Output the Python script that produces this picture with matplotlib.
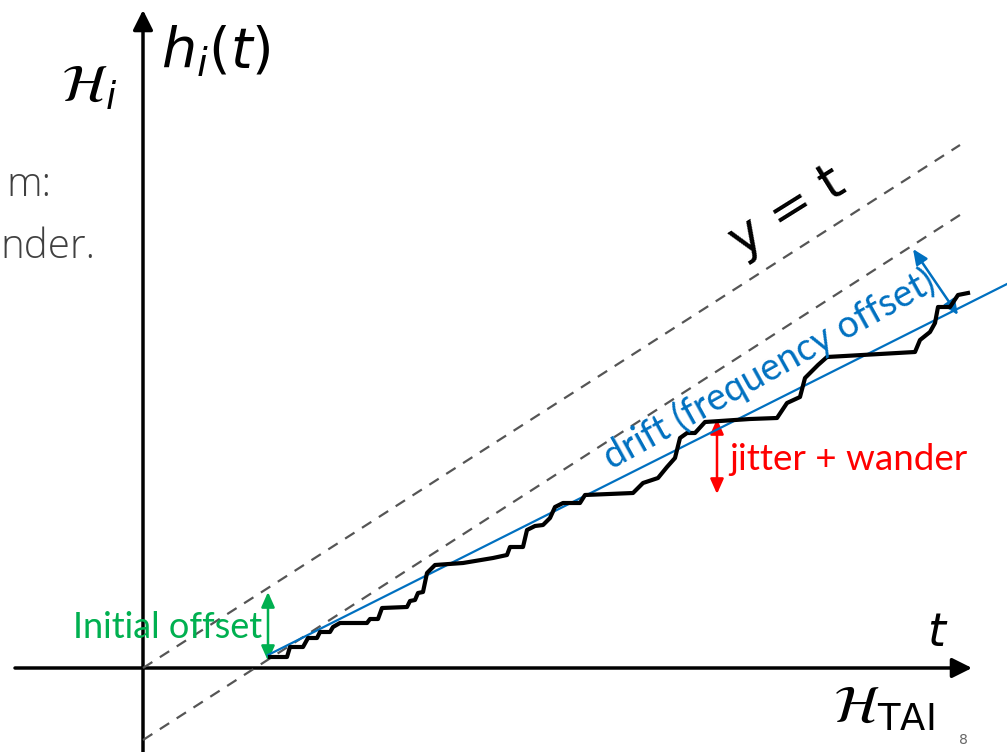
import matplotlib.pyplot as plt
from matplotlib.patches import FancyArrowPatch

# diagram drawn in slide pixel coordinates (x right, y down)
clock_x = [270, 287, 290, 303, 308, 317, 320, 330, 333, 340, 367, 370, 378, 382,
           407, 410, 415, 418, 423, 427, 435, 463, 493, 507, 510, 523, 527, 535,
           543, 550, 555, 563, 580, 585, 633, 643, 658, 667, 675, 680, 687, 695,
           705, 750, 777, 787, 800, 805, 818, 827, 915, 920, 930, 935, 938, 950,
           958, 968]
clock_y = [657, 657, 647, 647, 638, 638, 632, 632, 627, 623, 623, 619, 619, 608,
           607, 601, 600, 593, 592, 573, 565, 563, 558, 555, 547, 547, 530, 526,
           525, 518, 507, 503, 503, 495, 493, 483, 478, 467, 458, 438, 433, 433,
           422, 419, 418, 403, 397, 378, 365, 357, 352, 340, 332, 323, 307, 307,
           295, 293]

ideal_x = [143, 960]
ideal_y = [668, 145]
ideal2_x = [143, 963]
ideal2_y = [740, 213]
drift_x = [268, 1007]
drift_y = [655, 284]

fig = plt.figure(figsize=(10.07, 7.52), dpi=100)
ax = fig.add_axes([0, 0, 1, 1])
ax.set_xlim(0, 1007)
ax.set_ylim(752, 0)
ax.axis("off")

plt.rcParams["mathtext.fontset"] = "dejavusans"

# background slide text (cut off at the left)
ax.text(52, 186, "m:", ha="right", va="center", fontsize=29, color="#404040",
        family="Open Sans", fontweight="light")
ax.text(95, 248, "nder.", ha="right", va="center", fontsize=29, color="#404040",
        family="Open Sans", fontweight="light")

# axes arrows
ax.add_patch(FancyArrowPatch((143, 752), (143, 10), arrowstyle="-|>,head_length=12,head_width=6",
                             color="black", lw=2.5, mutation_scale=1, shrinkA=0, shrinkB=0))
ax.add_patch(FancyArrowPatch((15, 668), (972, 668), arrowstyle="-|>,head_length=12,head_width=6",
                             color="black", lw=2.5, mutation_scale=1, shrinkA=0, shrinkB=0))

# reference lines
ax.plot(ideal_x, ideal_y, ls=(0, (5, 4)), color="#555555", lw=1.6)
ax.plot(ideal2_x, ideal2_y, ls=(0, (5, 4)), color="#555555", lw=1.6)
ax.plot(drift_x, drift_y, color="#0070C0", lw=1.6)
ax.plot(clock_x, clock_y, color="black", lw=3, solid_joinstyle="round")

# double arrows
ax.add_patch(FancyArrowPatch((268, 592), (268, 661), arrowstyle="<|-|>,head_length=9,head_width=4",
                             color="#00B050", lw=1.8, mutation_scale=1, shrinkA=0, shrinkB=0))
ax.add_patch(FancyArrowPatch((717, 419), (717, 494), arrowstyle="<|-|>,head_length=9,head_width=4",
                             color="#FF0000", lw=1.8, mutation_scale=1, shrinkA=0, shrinkB=0))
ax.add_patch(FancyArrowPatch((913, 249), (958, 315), arrowstyle="<|-|>,head_length=9,head_width=4",
                             color="#0070C0", lw=1.8, mutation_scale=1, shrinkA=0, shrinkB=0))

# labels
ax.text(262, 627, "Initial offset", ha="right", va="center", fontsize=26, color="#00B050",
        family="Lato")
ax.text(729, 459, "jitter + wander", ha="left", va="center", fontsize=26.5, color="#FF0000",
        family="Lato")
ax.text(769, 369, "drift (frequency offset)", ha="center", va="center", fontsize=27,
        color="#0070C0", family="Lato", rotation=29, rotation_mode="anchor")
ax.text(787, 212, "y = t", ha="center", va="center", fontsize=37, color="black",
        family="DejaVu Sans", rotation=32, rotation_mode="anchor")
ax.text(216, 52, r"$h_i(t)$", ha="center", va="center", fontsize=40)
ax.text(89, 86, r"$\mathcal{H}_i$", ha="center", va="center", fontsize=38)
ax.text(938, 634, r"$t$", ha="center", va="center", fontsize=33)
ax.text(884, 707, r"$\mathcal{H}_{\mathsf{TAI}}$", ha="center", va="center", fontsize=38)
ax.text(963, 740, "8", ha="center", va="center", fontsize=10, color="#666666")

fig.savefig("out.png", dpi=100)
